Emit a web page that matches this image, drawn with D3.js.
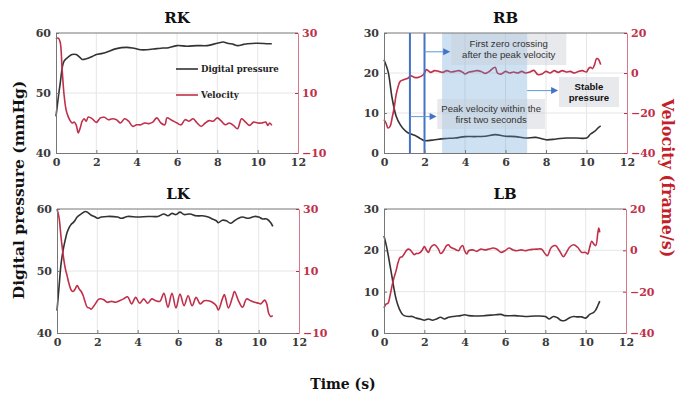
<!DOCTYPE html>
<html>
<head>
<meta charset="utf-8">
<script src="https://cdn.jsdelivr.net/npm/d3@7"></script>
<style>
  body { margin: 0; background: #fff; }
  svg { display: block; }
  .serif { font-family: "DejaVu Serif", serif; font-weight: bold; }
  .sans { font-family: "Liberation Sans", Arial, sans-serif; }
</style>
</head>
<body>
<svg id="chart" width="684" height="396"></svg>
<script>
// time ticks shared by all panels
const timeTicks = [0, 2, 4, 6, 8, 10, 12];
const kneePressureTicks = [40, 50, 60];
const kneeVelocityTicks = [-10, 10, 30];
const backPressureTicks = [0, 10, 20, 30];
const backVelocityTicks = [-40, -20, 0, 20];

// [time (s), value]
const rkPressure = [[0,46.1],[0.2,51.4],[0.4,55.3],[0.65,56.1],[0.8,56.4],[1.0,56.4],[1.2,55.9],[1.3,55.6],[1.5,55.7],[1.8,56.1],[2.0,56.4],[2.3,56.6],[2.5,56.8],[3.0,57.4],[3.5,57.6],[3.8,57.5],[4.2,57.2],[4.5,57.2],[5.0,57.4],[5.3,57.5],[5.5,57.5],[6.0,57.9],[6.5,57.8],[7.0,57.9],[7.5,57.9],[8.0,58.3],[8.3,58.5],[8.5,58.3],[8.8,58.1],[9.0,57.9],[9.3,58.1],[9.5,58.2],[10.0,58.3],[10.5,58.2],[10.7,58.2]];
const rkVelocity = [[0,28],[0.1,28.3],[0.2,27.2],[0.3,18.3],[0.4,9.4],[0.5,4.4],[0.6,2.2],[0.7,0.8],[0.8,0],[0.9,0.3],[1.0,-0.6],[1.1,-3.3],[1.2,-1.7],[1.3,0.6],[1.4,1.4],[1.5,0.6],[1.6,2.0],[1.8,1.4],[2.0,0.2],[2.2,1.7],[2.4,1.9],[2.6,1.1],[2.8,1.4],[3.0,1.1],[3.2,0],[3.4,1.4],[3.6,0.6],[3.8,-1.1],[4.0,-0.6],[4.2,-0.6],[4.4,0],[4.6,-0.2],[4.8,0.3],[5.0,1.7],[5.2,0],[5.4,-0.6],[5.5,1.7],[5.7,1.1],[6.0,0],[6.2,-0.6],[6.4,1.1],[6.6,0.6],[6.8,1.4],[7.0,0],[7.2,-1.1],[7.4,0],[7.6,0.8],[7.8,0.6],[8.0,1.7],[8.2,0.6],[8.4,-0.6],[8.6,0],[8.8,-0.8],[9.0,-1.9],[9.2,1.4],[9.4,0.3],[9.6,-0.8],[9.8,0.3],[10.0,0],[10.2,0],[10.4,0.3],[10.5,-0.8],[10.6,0],[10.7,-0.8]];

const rbPressure = [[0,23.3],[0.2,20.4],[0.4,13.75],[0.6,9.2],[0.8,7.1],[1.0,5.8],[1.2,5.0],[1.4,4.6],[1.6,4.2],[1.8,3.6],[2.0,3.1],[2.2,3.1],[2.5,3.3],[3.0,3.6],[3.5,3.75],[4.0,4.1],[4.5,4.1],[5.0,4.2],[5.5,4.6],[6.0,4.2],[6.5,4.1],[7.0,3.75],[7.5,3.9],[8.0,3.3],[8.5,3.5],[9.0,3.75],[9.5,3.75],[10.0,3.75],[10.2,4.75],[10.4,5.4],[10.6,6.4],[10.7,6.8]];
const rbVelocity = [[0,-23.3],[0.1,-25],[0.2,-27.5],[0.3,-26.7],[0.4,-22.5],[0.5,-17.5],[0.6,-10.8],[0.7,-6.7],[0.8,-4.2],[1.0,-3.3],[1.2,-2.5],[1.3,-1.3],[1.5,-2.2],[1.7,-2.2],[1.9,-1.2],[2.0,0],[2.1,1.7],[2.3,0.3],[2.5,1.2],[2.7,0.8],[2.9,0.3],[3.1,1.2],[3.3,0.5],[3.5,0.8],[3.7,1.2],[3.9,0.3],[4.0,-0.5],[4.2,0.5],[4.4,0.8],[4.6,1.2],[4.8,0.8],[5.0,-0.2],[5.2,0.8],[5.4,2.5],[5.5,2.8],[5.6,0],[5.8,-0.5],[6.0,0.8],[6.2,0],[6.4,0.5],[6.6,0],[6.8,0.8],[7.0,0],[7.2,0.5],[7.4,1.3],[7.6,-0.8],[7.8,-0.5],[8.0,0.8],[8.2,0],[8.4,1.2],[8.6,0.3],[8.8,1.2],[9.0,0.5],[9.2,0.8],[9.4,0],[9.6,0.8],[9.8,1.2],[10.0,0.5],[10.1,2.2],[10.2,2.8],[10.3,2.2],[10.4,4.2],[10.5,7.2],[10.6,6.7],[10.7,4.2]];

const lkPressure = [[0,43.6],[0.1,47.4],[0.2,51.1],[0.3,53.3],[0.4,54.9],[0.5,56.2],[0.6,57.0],[0.7,57.5],[0.8,57.8],[0.9,58.2],[1.0,58.7],[1.2,59.2],[1.4,59.6],[1.5,59.5],[1.7,59.0],[1.9,58.7],[2.0,58.5],[2.2,58.7],[2.5,58.8],[3.0,58.7],[3.2,58.5],[3.5,58.8],[4.0,58.7],[4.5,58.8],[5.0,58.8],[5.3,59.2],[5.5,58.9],[5.7,59.3],[5.9,59.1],[6.1,59.5],[6.3,59.1],[6.6,59.2],[6.9,58.9],[7.2,58.9],[7.5,58.7],[7.7,58.4],[7.9,58.1],[8.0,57.8],[8.2,58.2],[8.4,58.1],[8.6,57.7],[8.8,58.1],[9.0,58.5],[9.2,58.7],[9.5,58.5],[9.8,58.8],[10.0,58.7],[10.2,58.4],[10.4,58.4],[10.6,57.8],[10.7,57.2]];
const lkVelocity = [[0,30],[0.1,27.3],[0.2,20.9],[0.3,15.5],[0.4,11.2],[0.5,8.5],[0.6,5.8],[0.7,3.9],[0.8,3.4],[0.9,4.2],[1.0,5.3],[1.1,4.2],[1.2,3.4],[1.3,2.0],[1.4,-0.1],[1.5,-1.7],[1.6,-1.9],[1.7,-2.3],[1.8,-1.5],[1.9,-0.6],[2.0,0.4],[2.1,1.0],[2.3,0.8],[2.5,-0.1],[2.7,0.2],[2.9,-0.1],[3.1,0.4],[3.3,1.0],[3.5,1.7],[3.7,-0.6],[3.9,1.5],[4.1,-0.4],[4.3,1.0],[4.5,-0.4],[4.7,1.0],[4.9,0.4],[5.1,0.2],[5.3,2.8],[5.5,-1.7],[5.7,2.8],[5.9,-1.9],[6.1,2.6],[6.3,-1.2],[6.5,2.0],[6.7,-1.2],[6.9,1.5],[7.1,-0.6],[7.3,0.4],[7.5,0.4],[7.7,-0.1],[7.9,-1.2],[8.0,-2.6],[8.2,1.0],[8.3,2.4],[8.5,-1.9],[8.7,1.5],[8.8,3.4],[9.0,0.4],[9.2,-1.7],[9.4,1.0],[9.6,0.4],[9.8,-0.1],[10.0,-0.4],[10.1,-0.6],[10.3,0.6],[10.4,-0.6],[10.5,-3.7],[10.6,-4.7],[10.7,-4.4]];

const lbPressure = [[0,23.5],[0.1,21.5],[0.2,19.1],[0.3,16.3],[0.4,13.5],[0.5,10.6],[0.6,8.2],[0.7,6.6],[0.8,5.4],[0.9,4.6],[1.0,4.2],[1.2,4.0],[1.4,4.0],[1.6,3.6],[1.8,3.4],[2.0,3.1],[2.2,3.4],[2.4,3.1],[2.6,3.4],[2.8,3.8],[3.0,3.4],[3.2,3.8],[3.4,4.0],[3.6,4.1],[3.8,4.2],[4.0,4.4],[4.2,4.2],[4.5,4.1],[5.0,4.2],[5.5,4.4],[5.8,4.5],[6.0,4.2],[6.5,4.2],[7.0,4.0],[7.5,4.1],[8.0,4.0],[8.2,3.4],[8.4,4.0],[8.6,3.7],[8.8,3.0],[9.0,3.1],[9.2,3.7],[9.4,4.0],[9.6,3.9],[9.8,3.9],[10.0,3.6],[10.2,4.5],[10.4,5.0],[10.5,5.6],[10.6,6.6],[10.7,7.7]];
const lbVelocity = [[0,-27.9],[0.1,-26],[0.2,-25.6],[0.3,-21.9],[0.4,-17.1],[0.5,-13.1],[0.6,-9.8],[0.7,-5.8],[0.8,-3.4],[0.9,-3.1],[1.0,-1.8],[1.1,-0.2],[1.2,0.6],[1.3,0.2],[1.4,-1.0],[1.5,-2.1],[1.6,-1.5],[1.7,-1.5],[1.8,-1.0],[1.9,0.2],[2.0,1.8],[2.1,0.2],[2.2,-1.0],[2.3,1.1],[2.4,2.3],[2.5,2.7],[2.7,0.6],[2.8,-1.5],[2.9,-1.0],[3.0,0.6],[3.1,2.3],[3.2,2.7],[3.3,1.5],[3.5,0.6],[3.7,-0.2],[3.8,1.5],[3.9,2.3],[4.0,-0.2],[4.1,-1.8],[4.2,-0.2],[4.4,0.2],[4.6,-0.5],[4.8,0.6],[5.0,0.2],[5.2,0.6],[5.4,1.1],[5.6,0.5],[5.8,-1.0],[6.0,-0.2],[6.2,1.1],[6.4,0.2],[6.6,-0.2],[6.8,0.2],[7.0,-0.2],[7.2,0.3],[7.4,0.5],[7.6,0.6],[7.8,0.6],[8.0,-1.8],[8.1,-2.6],[8.3,1.5],[8.5,2.3],[8.7,-0.2],[8.9,-3.1],[9.0,-1.8],[9.2,1.5],[9.4,2.7],[9.6,1.5],[9.8,-1.0],[10.0,-1.0],[10.1,-1.8],[10.2,1.5],[10.3,4.4],[10.4,3.1],[10.5,2.3],[10.6,8.2],[10.65,10.8],[10.7,8.7]];

// RB annotations (time range of highlighted phase, marker lines)
const rbMarkers = [1.28, 2.0];
const rbShade = [2.87, 7.07];

const PRESSURE_COLOR = "#333333";
const VELOCITY_COLOR = "#c0304a";
const AXIS_COLOR = "#777777";
const GRID_COLOR = "#e6e6e6";

const svg = d3.select("#chart");

const panels = [
  { title: "RK", box: [56, 298, 33, 153], pressure: rkPressure, velocity: rkVelocity, pTicks: kneePressureTicks, vTicks: kneeVelocityTicks, legend: true },
  { title: "RB", box: [384, 627, 33, 153], pressure: rbPressure, velocity: rbVelocity, pTicks: backPressureTicks, vTicks: backVelocityTicks, notes: true },
  { title: "LK", box: [57, 299, 209, 333], pressure: lkPressure, velocity: lkVelocity, pTicks: kneePressureTicks, vTicks: kneeVelocityTicks },
  { title: "LB", box: [384, 626, 209, 333], pressure: lbPressure, velocity: lbVelocity, pTicks: backPressureTicks, vTicks: backVelocityTicks }
];

panels.forEach(drawPanel);

function drawPanel(p) {
  const [left, right, top, bottom] = p.box;
  const x = d3.scaleLinear().domain([0, 12]).range([left, right]);
  const yP = d3.scaleLinear().domain(d3.extent(p.pTicks)).range([bottom, top]);
  const yV = d3.scaleLinear().domain(d3.extent(p.vTicks)).range([bottom, top]);
  const g = svg.append("g");

  // grid
  g.append("g").selectAll("line").data(timeTicks.slice(1, -1)).join("line")
    .attr("x1", (d) => x(d)).attr("x2", (d) => x(d))
    .attr("y1", top).attr("y2", bottom)
    .attr("stroke", GRID_COLOR).attr("stroke-width", 1);
  g.append("g").selectAll("line").data(p.pTicks.slice(1, -1)).join("line")
    .attr("x1", left).attr("x2", right)
    .attr("y1", (d) => yP(d)).attr("y2", (d) => yP(d))
    .attr("stroke", GRID_COLOR).attr("stroke-width", 1);

  const line = (ys) => d3.line().x((d) => x(d[0])).y((d) => ys(d[1])).curve(d3.curveCatmullRom.alpha(0.5));

  g.append("path").datum(p.pressure)
    .attr("fill", "none").attr("stroke", PRESSURE_COLOR).attr("stroke-width", 1.6)
    .attr("d", line(yP));
  g.append("path").datum(p.velocity)
    .attr("fill", "none").attr("stroke", VELOCITY_COLOR).attr("stroke-width", 1.6)
    .attr("d", line(yV));

  if (p.notes) drawNotes(g, x, yP, top, bottom);

  // frame top
  g.append("line").attr("x1", left).attr("x2", right).attr("y1", top).attr("y2", top)
    .attr("stroke", AXIS_COLOR).attr("stroke-width", 1);

  const styleAxis = (sel, color) => {
    sel.select(".domain").attr("stroke", color);
    sel.selectAll(".tick line").attr("stroke", color);
    sel.selectAll(".tick text").attr("fill", color)
      .attr("class", "serif").style("font-size", "11px");
  };

  const bottomAxis = g.append("g").attr("transform", `translate(0,${bottom})`)
    .call(d3.axisBottom(x).tickValues(timeTicks).tickSizeInner(-3).tickSizeOuter(0).tickPadding(5));
  styleAxis(bottomAxis, AXIS_COLOR);
  bottomAxis.selectAll(".tick text").attr("fill", "#3a3a3a");

  const leftAxis = g.append("g").attr("transform", `translate(${left},0)`)
    .call(d3.axisLeft(yP).tickValues(p.pTicks).tickSizeInner(-3).tickSizeOuter(0).tickPadding(5));
  styleAxis(leftAxis, AXIS_COLOR);
  leftAxis.selectAll(".tick text").attr("fill", "#3a3a3a");

  const rightAxis = g.append("g").attr("transform", `translate(${right},0)`)
    .call(d3.axisRight(yV).tickValues(p.vTicks).tickSizeInner(-3).tickSizeOuter(0).tickPadding(4));
  styleAxis(rightAxis, VELOCITY_COLOR);
  rightAxis.select(".domain").attr("stroke", "#d27a8a");

  g.append("text").attr("class", "serif")
    .attr("x", (left + right) / 2).attr("y", top - 10)
    .attr("text-anchor", "middle").style("font-size", "15px").attr("fill", "#111")
    .text(p.title);

  if (p.legend) {
    const items = [["Digital pressure", PRESSURE_COLOR, 69], ["Velocity", VELOCITY_COLOR, 95]];
    items.forEach(([label, color, yy]) => {
      g.append("line").attr("x1", 176).attr("x2", 198).attr("y1", yy).attr("y2", yy)
        .attr("stroke", color).attr("stroke-width", 1.6);
      g.append("text").attr("class", "serif").attr("x", 201).attr("y", yy + 3)
        .style("font-size", "8.6px").attr("fill", "#222").text(label);
    });
  }
}

function drawNotes(g, x, yP, top, bottom) {
  const blue = "#4472c4";
  g.append("rect")
    .attr("x", x(rbShade[0])).attr("width", x(rbShade[1]) - x(rbShade[0]))
    .attr("y", top).attr("height", bottom - top)
    .attr("fill", "#5b9bd5").attr("fill-opacity", 0.3);

  g.selectAll(".marker").data(rbMarkers).join("line")
    .attr("x1", (d) => x(d)).attr("x2", (d) => x(d))
    .attr("y1", top).attr("y2", bottom)
    .attr("stroke", blue).attr("stroke-width", 2);

  const boxes = [
    { x0: 3.32, x1: 9.0, y0: 30, y1: 22, lines: ["First zero crossing", "after the peak velocity"], bold: false, from: 2.0, to: 3.27, ay: 25.3 },
    { x0: 8.64, x1: 11.6, y0: 19, y1: 11.5, lines: ["Stable", "pressure"], bold: true, from: 7.07, to: 8.6, ay: 15.6 },
    { x0: 2.63, x1: 7.95, y0: 13.5, y1: 6, lines: ["Peak velocity within the", "first two seconds"], bold: false, from: 1.28, to: 2.6, ay: 9.1 }
  ];

  boxes.forEach((b) => {
    const bx = x(b.x0), bw = x(b.x1) - x(b.x0);
    const by = yP(b.y0), bh = yP(b.y1) - yP(b.y0);
    g.append("rect").attr("x", bx).attr("y", by).attr("width", bw).attr("height", bh)
      .attr("fill", "#c9ced8").attr("fill-opacity", 0.45);
    b.lines.forEach((t, i) => {
      g.append("text").attr("class", "sans")
        .attr("x", bx + bw / 2).attr("y", by + bh / 2 + (i - 0.5) * 11 + 3.5)
        .attr("text-anchor", "middle")
        .style("font-size", "9.6px").style("font-weight", b.bold ? "bold" : "normal")
        .attr("fill", b.bold ? "#111" : "#333").text(t);
    });
    const ay = yP(b.ay);
    g.append("line").attr("x1", x(b.from)).attr("x2", x(b.to) - 6)
      .attr("y1", ay).attr("y2", ay).attr("stroke", "#5b9bd5").attr("stroke-width", 1);
    const tx = x(b.to);
    g.append("path").attr("d", `M${tx},${ay}L${tx - 7},${ay - 3.5}L${tx - 7},${ay + 3.5}Z`)
      .attr("fill", blue);
  });
}

// shared axis titles
svg.append("text").attr("class", "serif")
  .attr("transform", "translate(24,190) rotate(-90)")
  .attr("text-anchor", "middle").style("font-size", "15.5px").attr("fill", "#111")
  .text("Digital pressure (mmHg)");

svg.append("text").attr("class", "serif")
  .attr("transform", "translate(662,178) rotate(90)")
  .attr("text-anchor", "middle").style("font-size", "16px").attr("fill", "#c41e2a")
  .text("Velocity (frame/s)");

svg.append("text").attr("class", "serif")
  .attr("x", 343).attr("y", 389)
  .attr("text-anchor", "middle").style("font-size", "14px").attr("fill", "#111")
  .text("Time (s)");
</script>
</body>
</html>
